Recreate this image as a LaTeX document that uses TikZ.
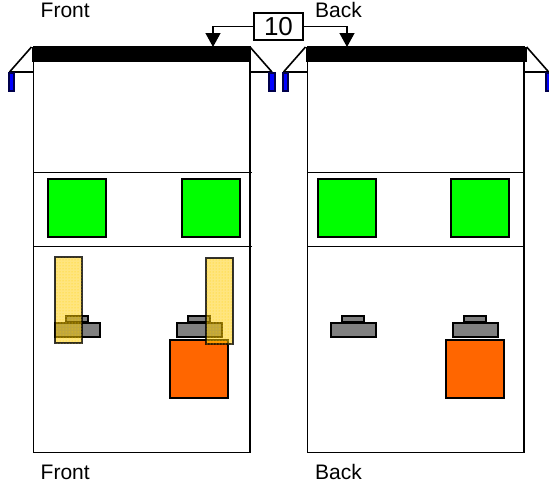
\documentclass[tikz,border=0pt]{standalone}
\usepackage{fontspec}
\setmainfont{Liberation Sans}
\usetikzlibrary{patterns,arrows.meta}
\definecolor{grn}{RGB}{0,255,0}
\definecolor{org}{RGB}{255,102,0}
\definecolor{gry}{RGB}{128,128,128}
\definecolor{blu}{RGB}{0,0,255}
\definecolor{yel}{RGB}{255,204,0}
\tikzset{
  wall/.style={draw=black,line width=1.6pt},
  line/.style={draw=black,line width=1.6pt},
  greenbox/.style={draw=black,line width=1.8pt,fill=grn},
  orangebox/.style={draw=black,line width=2pt,fill=org},
  greybox/.style={draw=black,line width=2pt,fill=gry},
  bluebox/.style={draw=black!70!blu,line width=2pt,fill=blu},
  overlay box/.style={draw=black,line width=1.5pt,fill=yel,fill opacity=.5,draw opacity=.8},
  overlay dots/.style={pattern=dots,pattern color=yel},
  lab/.style={font=\fontsize{21}{23}\selectfont,inner sep=0pt,anchor=base west},
  pointer/.style={draw=black,line width=1.3pt,-{Triangle[length=14pt,width=15pt]}}
}
\begin{document}
\begin{tikzpicture}[x=1pt,y=-1pt]
\useasboundingbox (0,0) rectangle (549,485);
% panels
\foreach \l/\r/\e in {33.5/249.7/250,307.5/524/526.7}{
  \draw[wall] (\l,47) rectangle (\r,452.5);
  \draw[line] (\l-24,72) -- (\l-2,47) (\l-24,72) -- (\l,72);
  \draw[line] (\e+22,72) -- (\e,47) (\e+22,72) -- (\r,72);
  \fill[black] (\l-2,47) rectangle (\e,62);
}
\draw[line] (33.5,172.5) -- (252,172.5) (33.5,246.5) -- (252,246.5);
\draw[line] (307.5,172.5) -- (524,172.5) (307.5,246.5) -- (524,246.5);
% blue
\foreach \x in {8.5,269,282.5,545.5}{\draw[bluebox] (\x,72.5) rectangle (\x+5.5,91);}
% green
\foreach \x/\w in {48/58,182/58,318/58,451/58}{\draw[greenbox] (\x,179) rectangle (\x+\w,237);}
% grey
\foreach \x in {55,177,331,453}{
  \draw[greybox] (\x,323) rectangle (\x+45,337);
  \draw[greybox] (\x+11,316) rectangle (\x+33,321.5);
}
% orange
\draw[orangebox] (170,340) rectangle (228,398);
\draw[orangebox] (446,340) rectangle (504,398);
% yellow
\foreach \x/\y in {55/257,206/258}{
  \draw[overlay box] (\x,\y) rectangle (\x+27,\y+86);
  \fill[overlay dots] (\x,\y) rectangle (\x+27,\y+86);
}
% labels
\node[lab] (frontTop) at (40.5,17.5) {Front};
\node[lab] (backTop) at (315,17.5) {Back};
\node[lab] (frontBot) at (40.5,479) {Front};
\node[lab] (backBot) at (315,479) {Back};
% pointer
\node[draw=black,line width=1.3pt,minimum width=49pt,minimum height=27pt,inner sep=0pt,font=\fontsize{26}{28}\selectfont,fill=white] (ten) at (278.5,26.5) {10};
\coordinate (barL) at (213,47);
\coordinate (barR) at (347,47);
\draw[pointer] (ten.west) -| (barL);
\draw[pointer] (ten.east) -| (barR);
\end{tikzpicture}
\end{document}
